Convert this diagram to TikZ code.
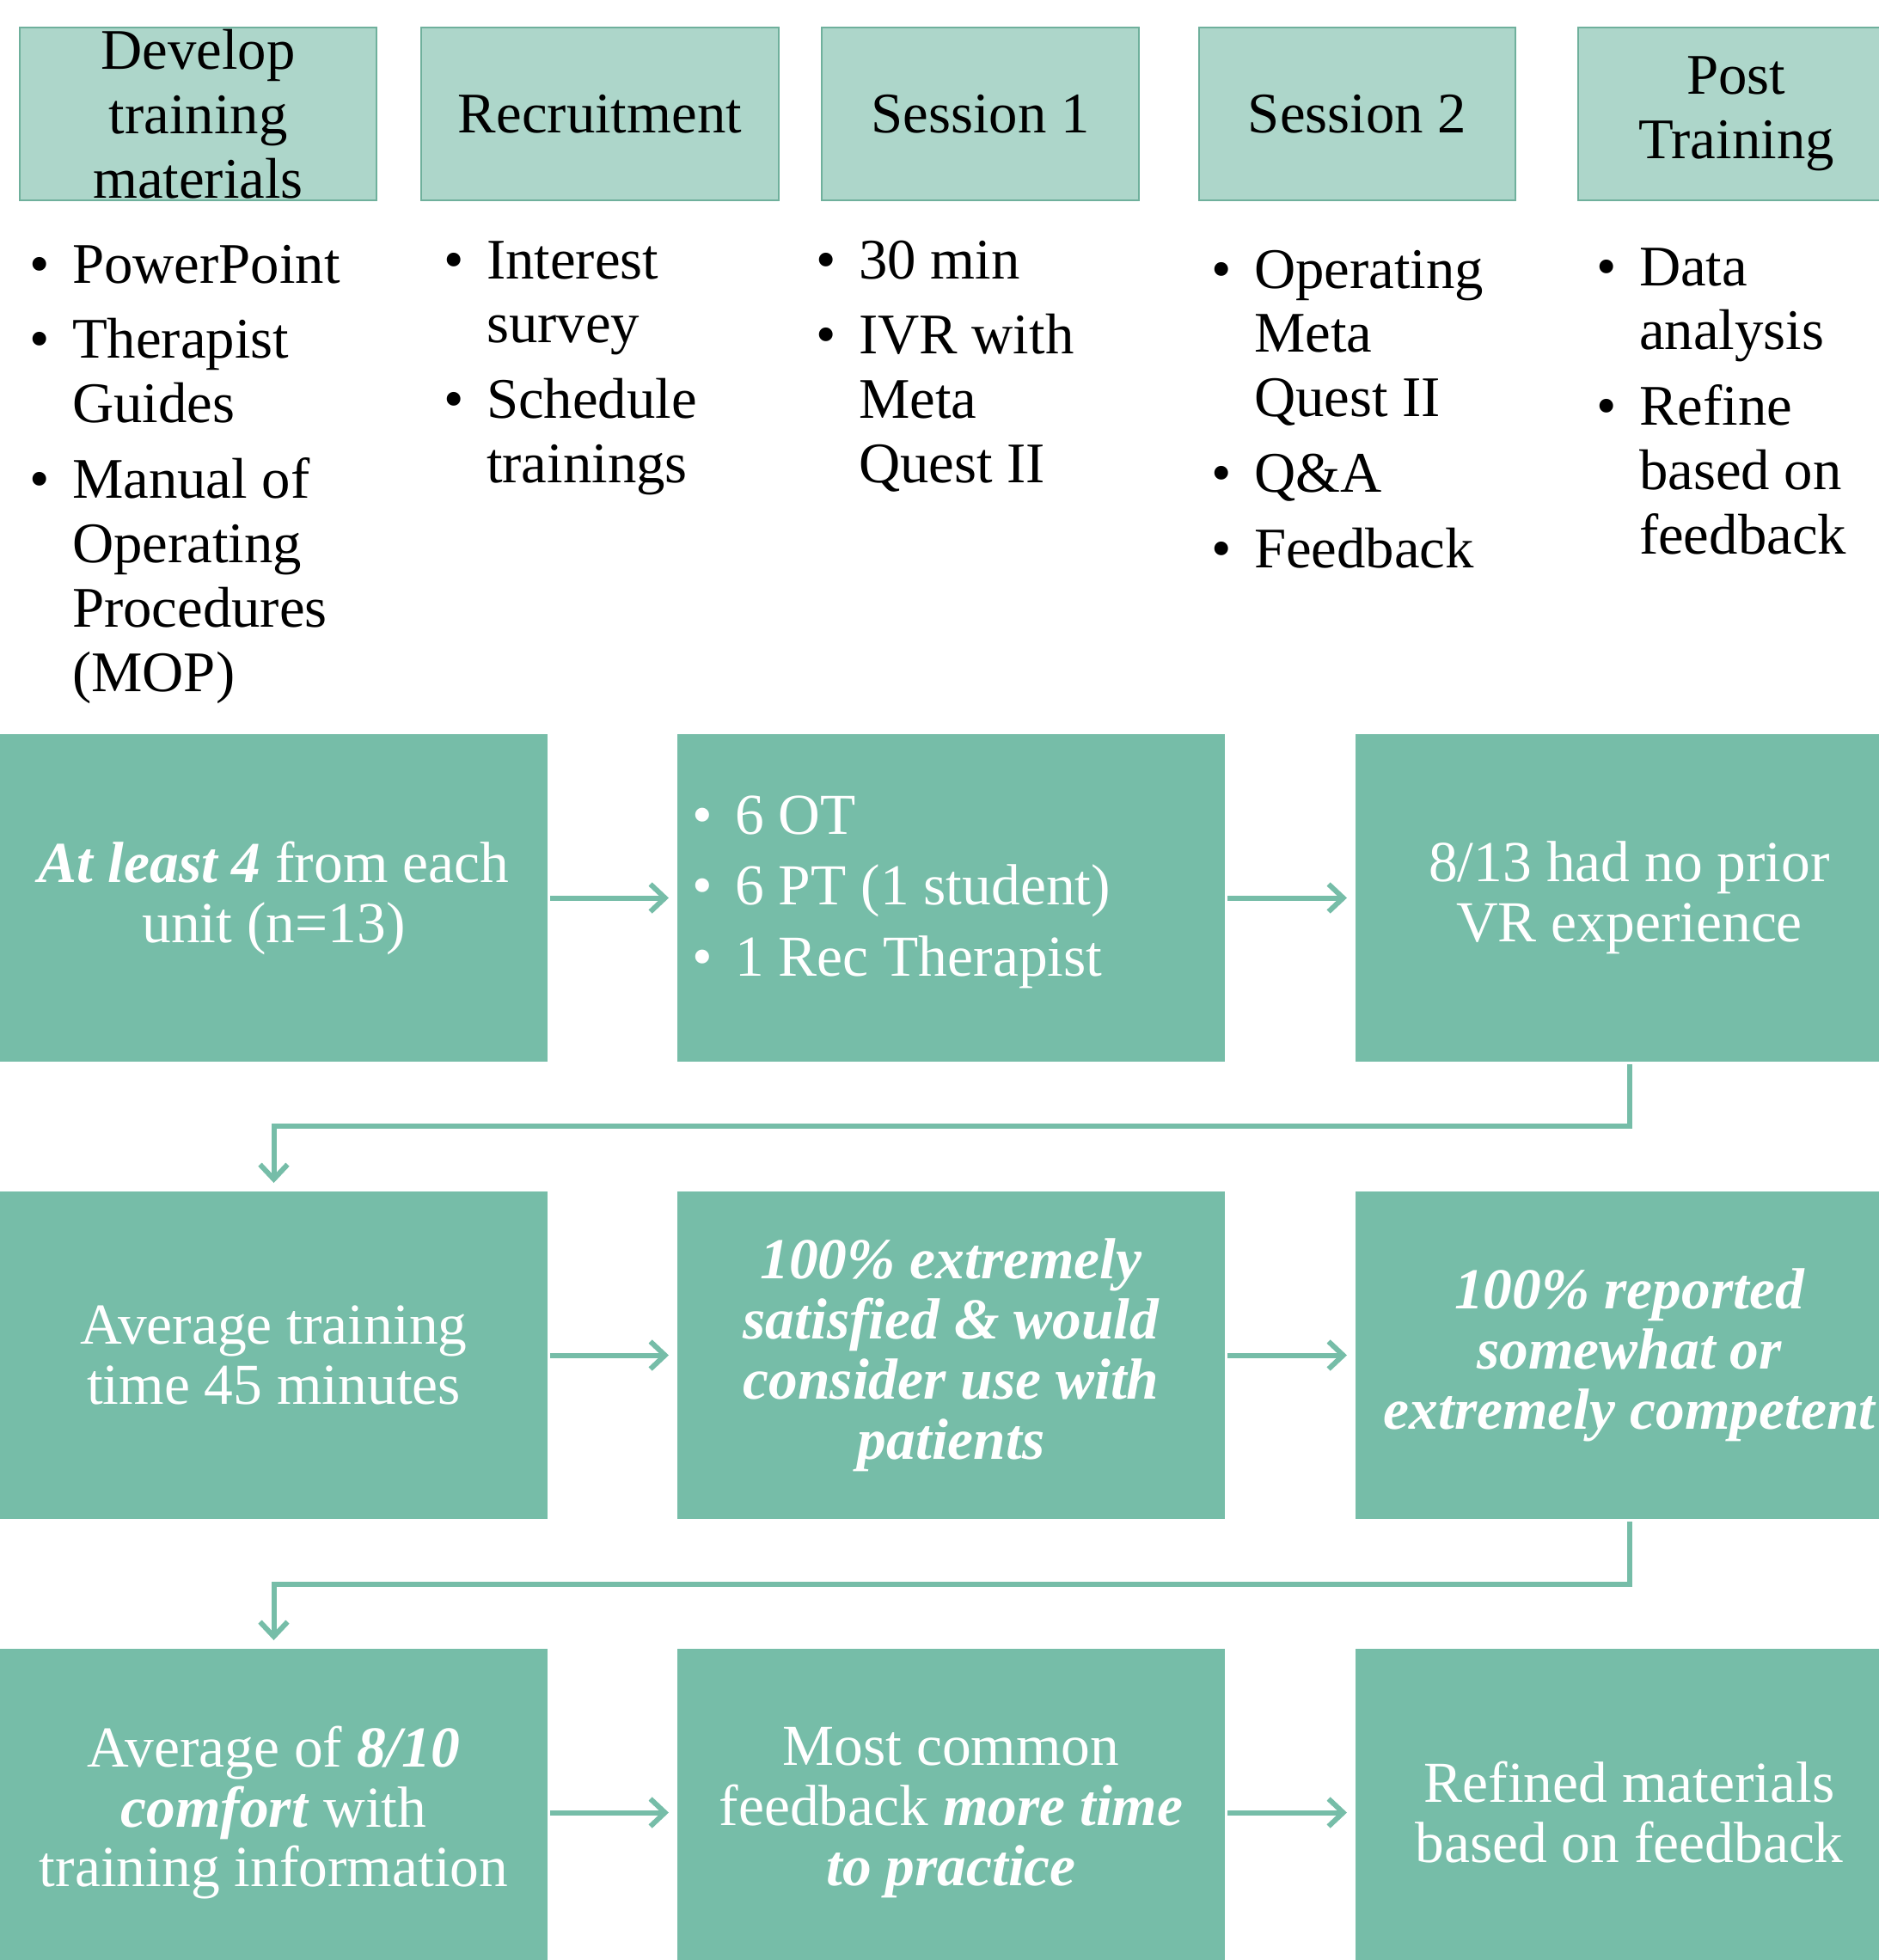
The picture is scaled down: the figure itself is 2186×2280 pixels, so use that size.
\documentclass[tikz,border=0pt]{standalone}
\usepackage{fontspec}
\setmainfont{Liberation Serif}
\usetikzlibrary{arrows.meta}

\definecolor{hdrfill}{HTML}{ADD6CA}
\definecolor{hdrline}{HTML}{6FB09C}
\definecolor{resfill}{HTML}{76BDA8}

\newcommand{\emphb}[1]{\textbf{\textit{#1}}}

\tikzset{
  phase/.style={draw=hdrline, line width=0.27mm, fill=hdrfill, minimum height=20.1mm,
    inner sep=0pt, outer sep=0pt, align=center, font=\fontsize{19}{21.3}\selectfont},
  tasks/.style={anchor=base west, inner sep=0pt, font=\fontsize{19}{21.3}\selectfont},
  result/.style={fill=resfill, minimum width=63.7mm, minimum height=38.1mm, inner sep=0pt,
    outer sep=0pt, text=white, align=center, font=\fontsize{19.2}{19.9}\selectfont},
  strong/.style={font=\fontsize{19.2}{19.9}\selectfont\bfseries\itshape},
  flow/.style={draw=resfill, line width=0.6mm, -{Straight Barb[length=1.7mm, width=3.2mm]},
    shorten >=1mm, shorten <=0.3mm},
}

\begin{document}
\begin{tikzpicture}[x=0.1mm, y=-0.1mm]
\useasboundingbox (0,0) rectangle (2186,2280);

% phases along the top
\node[phase, minimum width=41.5mm] (dev) at (230.5,132.5) {Develop\\training\\materials};
\node[phase, minimum width=41.6mm] (recruit) at (698,132.5) {Recruitment};
\node[phase, minimum width=36.9mm] (sess1) at (1140.5,132.5) {Session 1};
\node[phase, minimum width=36.8mm] (sess2) at (1579,132.5) {Session 2};
\node[phase, minimum width=36.8mm] (post) at (2020,132.5) {Post\\Training};

% what each phase held
\node[tasks] (devlist) at (34,329) {\begin{tabular}[t]{@{}l@{\hspace{2.6mm}}l@{}}
  \textbullet & PowerPoint\\[3.7pt]
  \textbullet & Therapist\\
   & Guides\\[3.7pt]
  \textbullet & Manual of\\
   & Operating\\
   & Procedures\\
   & (MOP)
\end{tabular}};
\node[tasks] (recruitlist) at (516,324) {\begin{tabular}[t]{@{}l@{\hspace{2.6mm}}l@{}}
  \textbullet & Interest\\
   & survey\\[3.7pt]
  \textbullet & Schedule\\
   & trainings
\end{tabular}};
\node[tasks] (sess1list) at (949,324) {\begin{tabular}[t]{@{}l@{\hspace{2.6mm}}l@{}}
  \textbullet & 30 min\\[3.7pt]
  \textbullet & IVR with\\
   & Meta\\
   & Quest II
\end{tabular}};
\node[tasks] (sess2list) at (1409,335) {\begin{tabular}[t]{@{}l@{\hspace{2.6mm}}l@{}}
  \textbullet & Operating\\
   & Meta\\
   & Quest II\\[3.7pt]
  \textbullet & Q\&A\\[3.7pt]
  \textbullet & Feedback
\end{tabular}};
\node[tasks] (postlist) at (1857,332) {\begin{tabular}[t]{@{}l@{\hspace{2.6mm}}l@{}}
  \textbullet & Data\\
   & analysis\\[3.7pt]
  \textbullet & Refine\\
   & based on\\
   & feedback
\end{tabular}};

% results, row by row
\node[result] (a1) at (318.5,1044.5) {\emphb{At least 4} from each\\unit (n=13)};
\node[result] (b1) at (1106.5,1044.5) {};
\node[result] (c1) at (1895.5,1044.5) {8/13 had no prior\\VR experience};
\node[tasks, text=white, font=\fontsize{19.2}{23.6}\selectfont] (b1list) at (805,970)
  {\begin{tabular}[t]{@{}l@{\hspace{2.6mm}}l@{}}
  \textbullet & 6 OT\\
  \textbullet & 6 PT (1 student)\\
  \textbullet & 1 Rec Therapist
\end{tabular}};

\node[result] (a2) at (318.5,1576.5) {Average training\\time 45 minutes};
\node[result, strong] (b2) at (1106.5,1576.5) {100\% extremely\\satisfied \& would\\consider use with\\patients};
\node[result, strong] (c2) at (1895.5,1576.5) {100\% reported\\somewhat or\\extremely competent};

\node[result] (a3) at (318.5,2108.5) {Average of \emphb{8/10}\\\emphb{comfort} with\\training information};
\node[result] (b3) at (1106.5,2108.5) {Most common\\feedback \emphb{more time}\\\emphb{to practice}};
\node[result] (c3) at (1895.5,2108.5) {Refined materials\\based on feedback};

% connectors
\draw[flow] (a1) -- (b1);
\draw[flow] (b1) -- (c1);
\draw[flow] (c1.south) -- ++(0,75) -| (a2.north);
\draw[flow] (a2) -- (b2);
\draw[flow] (b2) -- (c2);
\draw[flow] (c2.south) -- ++(0,76) -| (a3.north);
\draw[flow] (a3) -- (b3);
\draw[flow] (b3) -- (c3);
\end{tikzpicture}
\end{document}
